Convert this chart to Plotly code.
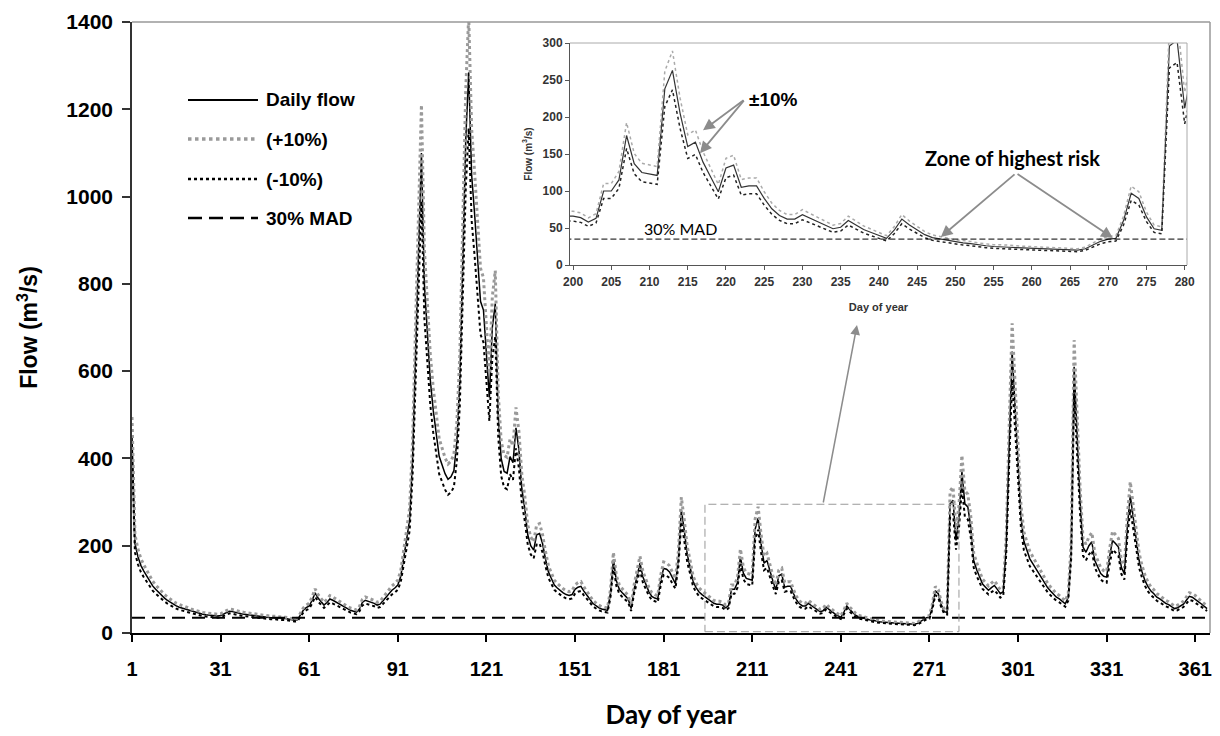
import plotly.graph_objects as go

# ---------------- data ----------------
days = list(range(1, 366))

daily_flow = [
    450, 205, 175, 155, 142, 130, 118, 108, 100, 93,
    86, 80, 75, 70, 66, 62, 59, 57, 55, 52,
    50, 48, 46, 44, 43, 42, 41, 40, 40, 39,
    40, 43, 47, 50, 49, 47, 46, 44, 43, 42,
    41, 40, 39, 38, 37, 36, 36, 35, 35, 34,
    34, 33, 33, 32, 30, 29, 30, 40, 52, 58,
    62, 75, 92, 80, 72, 64, 70, 78, 75, 71,
    67, 62, 58, 55, 52, 50, 48, 55, 70, 75,
    73, 71, 68, 64, 66, 74, 82, 90, 98, 103,
    110, 130, 170, 215, 260, 400, 640, 880, 1100, 800,
    680, 580, 510, 450, 405, 385, 365, 352, 358, 372,
    440, 580, 840, 1130, 1285, 1050, 960, 860, 760, 740,
    640, 540, 700, 755, 500, 400, 370, 366, 404, 390,
    470, 420, 330, 285, 225, 200, 190, 225, 228, 205,
    170, 140, 125, 110, 103, 97, 92, 88, 86, 88,
    100, 105, 107, 96, 88, 78, 68, 62, 58, 55,
    54, 52, 90, 168, 120, 100, 92, 85, 78, 56,
    100, 130, 160, 128, 110, 95, 84, 80, 78, 120,
    148, 146, 140, 125, 113, 170, 283, 235, 180, 150,
    118, 104, 94, 88, 83, 78, 72, 68, 66, 66,
    64, 58, 63, 100, 100, 115, 175, 137, 125, 123,
    121, 238, 263, 205, 160, 166, 139, 119, 99, 131,
    135, 105, 107, 107, 90, 76, 67, 62, 62, 68,
    63, 58, 54, 49, 51, 60, 54, 48, 44, 40,
    36, 47, 62, 54, 47, 41, 37, 35, 33, 31,
    30, 29, 27, 26, 25, 25, 24, 23.5, 23, 22.5,
    22, 21.5, 21, 21, 20, 20, 22, 27, 32, 35,
    36, 60, 97, 90, 65, 49, 47, 296, 304, 212,
    266, 370, 296, 289, 243, 166, 145, 128, 112, 105,
    98, 104, 109, 100, 90, 95, 200, 430, 645, 520,
    381, 266, 210, 189, 170, 159, 148, 136, 125, 113,
    104, 96, 88, 82, 78, 72, 67, 82, 189, 610,
    442, 304, 197, 185, 200, 209, 166, 150, 136, 130,
    128, 175, 212, 205, 197, 150, 136, 243, 315, 266,
    210, 166, 140, 120, 106, 96, 90, 82, 78, 72,
    68, 65, 60, 56, 58, 62, 66, 75, 84, 82,
    78, 72, 67, 62, 56,
]

# the two sensitivity series are, by the legend's definition, daily flow +10% and -10%
plus_10 = [round(v * 1.10, 1) for v in daily_flow]
minus_10 = [round(v * 0.90, 1) for v in daily_flow]

mad_30 = 35  # 30% of mean annual discharge (m3/s)

main_xticks = [1, 31, 61, 91, 121, 151, 181, 211, 241, 271, 301, 331, 361]
inset_first_day = 200
inset_last_day = 280

legend_labels = ["Daily flow", "(+10%)", "(-10%)", "30% MAD"]

# ---------------- styling ----------------
ARIAL = "Liberation Sans, Arial, sans-serif"
CALIBRI = "Lato, Carlito, Calibri, sans-serif"

fig = go.Figure()

# main chart traces
fig.add_trace(go.Scatter(x=days, y=daily_flow, mode="lines", name=legend_labels[0],
                         line=dict(color="black", width=1.5), xaxis="x", yaxis="y"))
fig.add_trace(go.Scatter(x=days, y=plus_10, mode="lines", name=legend_labels[1],
                         line=dict(color="#9a9a9a", width=3, dash="dot"), xaxis="x", yaxis="y"))
fig.add_trace(go.Scatter(x=days, y=minus_10, mode="lines", name=legend_labels[2],
                         line=dict(color="black", width=2, dash="dot"), xaxis="x", yaxis="y"))
fig.add_trace(go.Scatter(x=[days[0], days[-1] + 1], y=[mad_30, mad_30], mode="lines",
                         name=legend_labels[3],
                         line=dict(color="black", width=2, dash="13px,7px"), xaxis="x", yaxis="y"))

# inset traces (same data, zoomed)
fig.add_trace(go.Scatter(x=days, y=daily_flow, mode="lines", showlegend=False,
                         line=dict(color="#333333", width=1.2), xaxis="x2", yaxis="y2"))
fig.add_trace(go.Scatter(x=days, y=plus_10, mode="lines", showlegend=False,
                         line=dict(color="#aaaaaa", width=1.5, dash="dot"), xaxis="x2", yaxis="y2"))
fig.add_trace(go.Scatter(x=days, y=minus_10, mode="lines", showlegend=False,
                         line=dict(color="#222222", width=1.5, dash="dot"), xaxis="x2", yaxis="y2"))
fig.add_trace(go.Scatter(x=[inset_first_day - 1, inset_last_day + 1], y=[mad_30, mad_30],
                         mode="lines", showlegend=False,
                         line=dict(color="black", width=1, dash="6px,3px"), xaxis="x2", yaxis="y2"))

# geometry helpers (page pixel -> paper); the page body adds an 8px offset
OFF = 8
W, H = 1220 - OFF, 736 - OFF
ML, MR, MT, MB = 132 - OFF, 10, 22 - OFF, 103
PW, PH = W - ML - MR, H - MT - MB


def px(xp):
    return (xp - OFF - ML) / PW


def py(yp):
    return (OFF + H - MB - yp) / PH


inset_dom_x = [px(570), px(1187)]
inset_dom_y = [py(265), py(43)]

shapes = []
# gray frame (top / right) of main plot
shapes.append(dict(type="line", xref="paper", yref="paper", x0=0, x1=1, y0=1, y1=1,
                   line=dict(color="#999999", width=1.5)))
shapes.append(dict(type="line", xref="paper", yref="paper", x0=1, x1=1, y0=0, y1=1,
                   line=dict(color="#999999", width=1.5)))
# gray frame (top / right) of inset
shapes.append(dict(type="line", xref="paper", yref="paper", x0=inset_dom_x[0], x1=inset_dom_x[1],
                   y0=inset_dom_y[1], y1=inset_dom_y[1], line=dict(color="#aaaaaa", width=1)))
shapes.append(dict(type="line", xref="paper", yref="paper", x0=inset_dom_x[1], x1=inset_dom_x[1],
                   y0=inset_dom_y[0], y1=inset_dom_y[1], line=dict(color="#aaaaaa", width=1)))
# dashed zoom rectangle on main chart
shapes.append(dict(type="rect", xref="x", yref="y", x0=195, x1=281, y0=3, y1=295,
                   line=dict(color="#999999", width=1, dash="8px,4px")))

# manual legend
legend_rows = [py(100), py(139), py(179), py(218)]
legend_styles = [
    dict(color="black", width=2),
    dict(color="#9a9a9a", width=3.5, dash="dot"),
    dict(color="black", width=2.5, dash="dot"),
    dict(color="black", width=2.5, dash="14px,7px"),
]
for yr, st in zip(legend_rows, legend_styles):
    shapes.append(dict(type="line", xref="paper", yref="paper", x0=px(188), x1=px(258),
                       y0=yr, y1=yr, line=st))

annotations = []
for yr, lab in zip(legend_rows, legend_labels):
    annotations.append(dict(text=lab, xref="paper", yref="paper", x=px(264), y=yr,
                            xanchor="left", yanchor="middle", showarrow=False,
                            font=dict(family=ARIAL, size=19, color="black", weight="bold")))

# inset annotations
annotations.append(dict(text="±10%", xref="paper", yref="paper", x=px(773), y=py(100),
                        xanchor="center", yanchor="middle", showarrow=False,
                        font=dict(family=ARIAL, size=19, color="black", weight="bold")))
for hx, hy in [(217.0, 182), (216.6, 151)]:
    annotations.append(dict(text="", xref="x2", yref="y2", x=hx, y=hy,
                            ax=742 - (570 + (hx - 200) * 7.646),
                            ay=99 - (265 - hy * 0.741),
                            showarrow=True, arrowhead=2, arrowsize=1.3, arrowwidth=1.8,
                            arrowcolor="#8c8c8c"))
annotations.append(dict(text="30% MAD", xref="x2", yref="y2", x=214, y=49,
                        xanchor="center", yanchor="middle", showarrow=False,
                        font=dict(family=CALIBRI, size=16, color="black")))
annotations.append(dict(text="Zone of highest risk", xref="paper", yref="paper",
                        x=px(1012), y=py(158), xanchor="center", yanchor="middle",
                        showarrow=False,
                        font=dict(family=CALIBRI, size=20, color="black", weight="bold")))
for hx, hy in [(248.1, 37.8), (270.6, 36.4)]:
    annotations.append(dict(text="", xref="x2", yref="y2", x=hx, y=hy,
                            ax=1013 - (570 + (hx - 200) * 7.646),
                            ay=173 - (265 - hy * 0.741),
                            showarrow=True, arrowhead=2, arrowsize=1.3, arrowwidth=1.8,
                            arrowcolor="#8c8c8c"))
# arrow from zoom rectangle up to inset
annotations.append(dict(text="", xref="paper", yref="paper", x=px(857), y=py(325),
                        ax=823 - 857, ay=504 - 325, showarrow=True, arrowhead=2,
                        arrowsize=1.3, arrowwidth=1.5, arrowcolor="#8c8c8c"))

fig.update_layout(
    width=W, height=H,
    margin=dict(l=ML, r=MR, t=MT, b=MB, autoexpand=False),
    paper_bgcolor="white", plot_bgcolor="white",
    showlegend=False,
    shapes=shapes, annotations=annotations,
    xaxis=dict(
        range=[1, 366], tickvals=main_xticks, ticks="outside", ticklen=7, tickwidth=1.5,
        tickcolor="black", showline=True, linecolor="black", linewidth=1.5,
        showgrid=False, zeroline=False, ticklabelstandoff=10,
        tickfont=dict(family=ARIAL, size=20, color="black", weight="bold"),
        title=dict(text="Day of year", standoff=27,
                   font=dict(family=CALIBRI, size=26, color="black", weight="bold")),
    ),
    yaxis=dict(
        range=[0, 1400], dtick=200, ticks="outside", ticklen=8, tickwidth=1.5,
        tickcolor="#333333", showline=True, linecolor="#333333", linewidth=1.5,
        showgrid=False, zeroline=False, ticklabelstandoff=5,
        tickfont=dict(family=ARIAL, size=21, color="black", weight="bold"),
        title=dict(text="Flow (m<sup>3</sup>/s)", standoff=22,
                   font=dict(family=ARIAL, size=23, color="black", weight="bold")),
    ),
    xaxis2=dict(
        domain=inset_dom_x, anchor="y2", range=[inset_first_day - 0.4, inset_last_day + 0.3],
        tick0=200, dtick=5, ticks="outside", ticklen=4, tickcolor="#555555",
        showline=True, linecolor="#555555", linewidth=1, showgrid=False, zeroline=False,
        ticklabelstandoff=2,
        tickfont=dict(family=ARIAL, size=12, color="#333333", weight="bold"),
        title=dict(text="Day of year", standoff=14,
                   font=dict(family=ARIAL, size=11, color="#333333", weight="bold")),
    ),
    yaxis2=dict(
        domain=inset_dom_y, anchor="x2", range=[0, 300], dtick=50, ticks="outside",
        ticklen=4, tickcolor="#555555", showline=True, linecolor="#555555", linewidth=1,
        showgrid=False, zeroline=False,
        tickfont=dict(family=ARIAL, size=12, color="#333333", weight="bold"),
        title=dict(text="Flow (m<sup>3</sup>/s)", standoff=8,
                   font=dict(family=ARIAL, size=10, color="#333333", weight="bold")),
    ),
)

fig.write_html("out.html")
